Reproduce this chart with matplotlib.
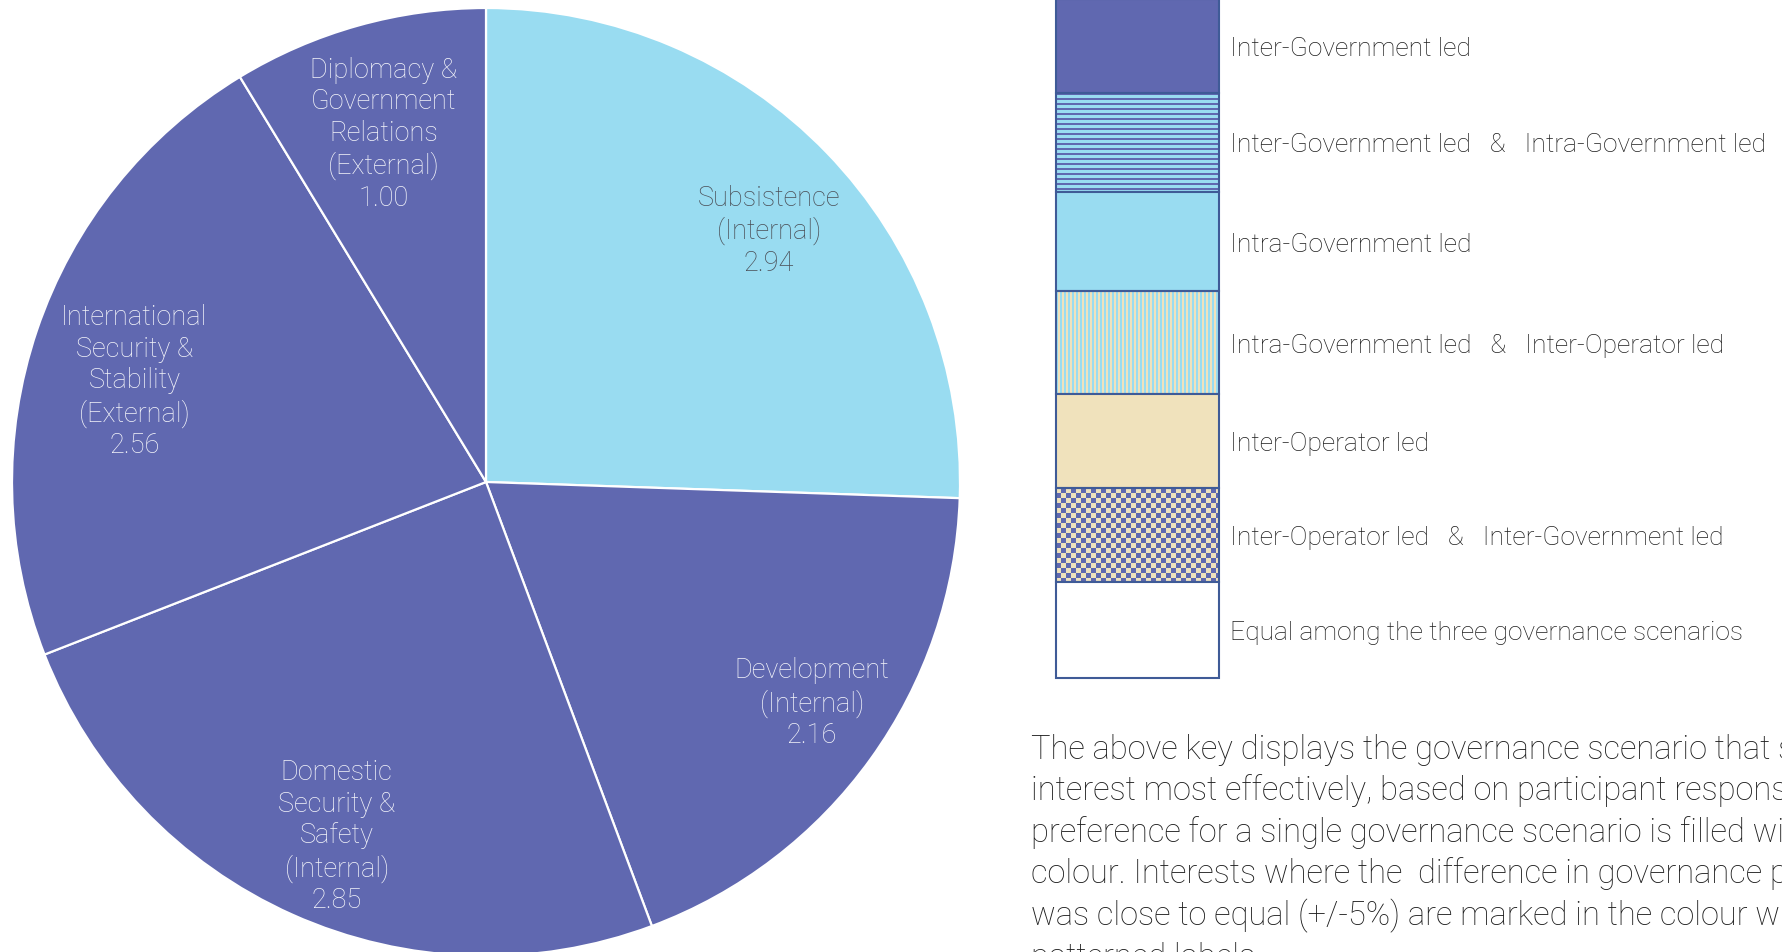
import matplotlib
matplotlib.use("Agg")
import matplotlib.pyplot as plt
from matplotlib.patches import Rectangle
from matplotlib.colors import ListedColormap
import numpy as np

# pie data (clockwise from 12 o'clock)
interests = ["Subsistence\n(Internal)", "Development\n(Internal)",
             "Domestic\nSecurity &\nSafety\n(Internal)",
             "International\nSecurity &\nStability\n(External)",
             "Diplomacy &\nGovernment\nRelations\n(External)"]
scores = [2.94, 2.16, 2.85, 2.56, 1.00]
preferred = ["intra", "inter", "inter", "inter", "inter"]

key_labels = ["Inter-Government led",
              "Inter-Government led   &   Intra-Government led",
              "Intra-Government led",
              "Intra-Government led   &   Inter-Operator led",
              "Inter-Operator led",
              "Inter-Operator led   &   Inter-Government led",
              "Equal among the three governance scenarios"]
key_styles = ["inter", "inter_intra", "intra", "intra_op", "op", "op_inter", "equal"]

note = ("The above key displays the governance scenario that serves each\n"
        "interest most effectively, based on participant responses. A clear\n"
        "preference for a single governance scenario is filled with a solid\n"
        "colour. Interests where the  difference in governance preference\n"
        "was close to equal (+/-5%) are marked in the colour with\n"
        "patterned labels.")

PURPLE = "#6068B0"
BLUE = "#99DCF1"
CREAM = "#F0E2BC"
EDGE = "#3F5B97"
FONT = "Roboto"
W, H = 1783, 953

fig = plt.figure(figsize=(W / 100, H / 100), dpi=100)
ax = fig.add_axes([0, 0, 1, 1])

colour_of = {"inter": PURPLE, "intra": BLUE, "op": CREAM, "equal": "white"}

# ---- pie ----
cx, cy, r = 486, H - 483, 474
# label placement: fraction of radius, nudge (deg) off the wedge middle
label_r = [0.80, 0.83, 0.81, 0.772, 0.767]
label_nudge = [-2.3, 1.7, 1.2, 2.6, 0.7]
wedges, _ = ax.pie(scores, colors=[colour_of[p] for p in preferred],
                   startangle=90, counterclock=False, center=(cx, cy), radius=r,
                   frame=True, wedgeprops=dict(edgecolor="white", linewidth=1.6))

for w, name, val, pref, lr, nd in zip(wedges, interests, scores, preferred,
                                      label_r, label_nudge):
    mid = np.deg2rad((w.theta1 + w.theta2) / 2 + nd)
    tx = cx + lr * r * np.cos(mid)
    ty = cy + lr * r * np.sin(mid)
    tc = "#4a4e56" if pref == "intra" else "#f4f5fa"
    ax.text(tx, ty, f"{name}\n{val:.2f}", ha="center", va="center",
            multialignment="center", color=tc, fontsize=19.5, family=FONT,
            fontweight="light", linespacing=1.22)

# ---- key ----
x0, x1 = 1056, 1219
edges = [0, 94, 193, 292, 395, 489, 583, 679]   # row boundaries, px from top


def pattern(style, nrow, ncol):
    yy, xx = np.mgrid[0:nrow, 0:ncol]
    if style == "inter_intra":
        return (yy % 5 < 2).astype(int), [BLUE, PURPLE]
    if style == "intra_op":
        return (xx % 4 < 2).astype(int), [CREAM, BLUE]
    if style == "op_inter":
        return ((yy // 5 + xx // 5) % 2).astype(int), [CREAM, PURPLE]
    return None, None


for i, (lab, st) in enumerate(zip(key_labels, key_styles)):
    top = H - edges[i]
    bot = H - edges[i + 1]
    hgt = top - bot
    arr, cols = pattern(st, hgt, x1 - x0)
    if arr is None:
        ax.add_patch(Rectangle((x0, bot), x1 - x0, hgt, facecolor=colour_of[st],
                               edgecolor="none"))
    else:
        ax.imshow(arr, extent=(x0, x1, bot, top), cmap=ListedColormap(cols),
                  interpolation="nearest", origin="upper", vmin=0, vmax=1)
    ax.add_patch(Rectangle((x0, bot), x1 - x0, hgt, fill=False,
                           edgecolor=EDGE, linewidth=1.5))
    ax.text(1230, (top + bot) / 2 - 2, lab, ha="left", va="center", fontsize=19,
            family=FONT, fontweight="light", color="#1e1e1e")

ax.text(1031, H - 734, note, ha="left", va="top", fontsize=23.5, family=FONT,
        fontweight="light", color="#1e1e1e", linespacing=1.33)

ax.set_xlim(0, W)
ax.set_ylim(0, H)
ax.set_aspect("auto")
ax.axis("off")

fig.savefig("out.png", dpi=100)
